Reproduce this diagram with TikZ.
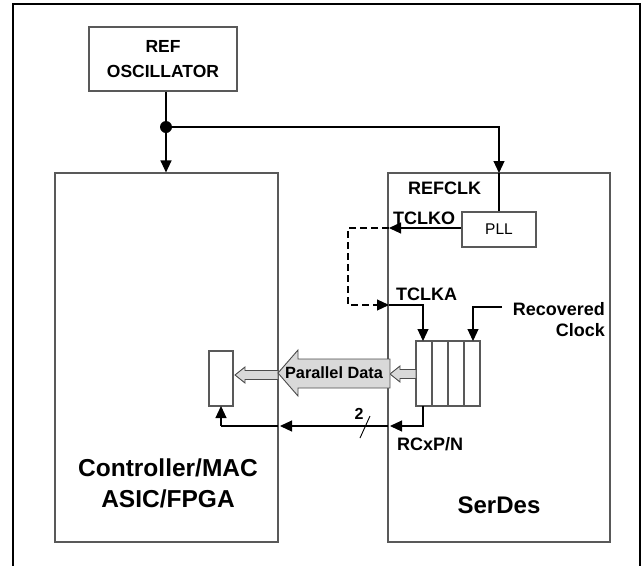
\documentclass[tikz,border=0pt]{standalone}
\usepackage{fontspec}
\setmainfont{Liberation Sans}
\usetikzlibrary{arrows.meta}
\begin{document}
\begin{tikzpicture}[x=1pt,y=-1pt,
  box/.style={draw=black!65, line width=1.1pt, inner sep=0pt, rectangle},
  wire/.style={line width=1.1pt, black},
  conn/.style={line width=1.1pt, black, -{Triangle[length=12pt,width=11pt]}},
  lbl/.style={font=\fontsize{18}{20}\selectfont\bfseries, inner sep=0pt},
  hollow/.style={draw=black!70, line width=0.9pt, fill=black!15}
]
\useasboundingbox (0,0) rectangle (642,565);
% outer frame
\draw[line width=2.7pt] (13,566) -- (13,4) -- (640,4) -- (640,566);

% blocks
\node[box, minimum width=148pt, minimum height=64pt, align=center,
      font=\fontsize{17.5}{25}\selectfont\bfseries] (osc) at (163,59) {REF\\OSCILLATOR};
\node[box, minimum width=223pt, minimum height=369pt] (ctrl) at (166.5,357.5) {};
\node[box, minimum width=222pt, minimum height=369pt] (serdes) at (499,357.5) {};
\node[box, minimum width=74pt, minimum height=35pt, font=\fontsize{15.5}{18}\selectfont] (pll) at (499,229.5) {PLL};
\node[box, minimum width=64pt, minimum height=65pt] (reg) at (448,373.5) {};
\draw[black!65, line width=1.1pt] (432,341) -- (432,406) (448,341) -- (448,406) (464,341) -- (464,406);
\node[box, minimum width=24pt, minimum height=55pt] (rx) at (221,378.5) {};

% block texts
\node[align=center, inner sep=0pt, font=\fontsize{24.5}{31}\selectfont\bfseries] (ctrltxt) at (168,483) {Controller/MAC\\ASIC/FPGA};
\node[inner sep=0pt, font=\fontsize{24}{28}\selectfont\bfseries] (sdtxt) at (499,505) {SerDes};

% labels
\node[lbl, anchor=west] (refclk) at (408,188) {REFCLK};
\node[lbl, anchor=west] (tclkolbl) at (393,218) {TCLKO};
\node[lbl, anchor=west] (tclkalbl) at (396,294) {TCLKA};
\node[lbl, anchor=east, align=right, font=\fontsize{18}{21}\selectfont\bfseries] (rcl) at (605,319.5) {Recovered\\Clock};
\node[lbl, anchor=west] (rcxp) at (397,444) {RCxP/N};
\node[inner sep=0pt, font=\fontsize{16}{18}\selectfont\bfseries] (two) at (359,414) {2};

% clock distribution
\coordinate (j) at (166,127);
\draw[wire] (osc.south -| j) -- (j);
\draw[conn] (j) -- (j |- ctrl.north);
\coordinate (rc) at (499,173);
\draw[conn] (j) -| (rc);
\draw[wire] (rc) -- (pll.north);
\fill (j) circle (6pt);

% TCLKO / TCLKA
\coordinate (tclko) at (389,228);
\coordinate (tclka) at (389,305);
\coordinate (ra) at (423,341);
\draw[conn] (pll.west |- tclko) -- (tclko);
\draw[wire, dash pattern=on 7pt off 4pt] (tclko) -- (348,228) -- (348,305) -- (380,305);
\draw[conn] (378,305) -- (tclka);
\draw[conn] (tclka) -| (ra);

% recovered clock
\coordinate (rcs) at (502,307);
\coordinate (rb) at (473,341);
\draw[conn] (rcs) -| (rb);

% RCxP/N
\coordinate (rq) at (423,406);
\coordinate (c1) at (423,426);
\coordinate (sw) at (390,426);
\coordinate (sw0) at (388,426);
\coordinate (cw) at (280,426);
\coordinate (cw0) at (278,426);
\coordinate (sr) at (221,406);
\draw[conn] (rq) -- (c1) -- (sw);
\draw[conn] (sw0) -- (cw);
\draw[wire] (cw0) -- (221,426);
\draw[conn] (221,426) -- (sr);
\draw[wire, line width=0.9pt] (370,416) -- (360,438);

% parallel data arrows
\draw[hollow] (235,375) -- (245,367) -- (245,370.5) -- (278,370.5) -- (278,379.5) -- (245,379.5) -- (245,383) -- cycle;
\draw[hollow] (390,374) -- (400,366) -- (400,369.5) -- (416,369.5) -- (416,378.5) -- (400,378.5) -- (400,382) -- cycle;
\draw[hollow] (278,373) -- (298,350) -- (298,359) -- (390,359) -- (390,388) -- (298,388) -- (298,396) -- cycle;
\node[inner sep=0pt, font=\fontsize{16.3}{18}\selectfont\bfseries] (pd) at (334,373) {Parallel Data};
\end{tikzpicture}
\end{document}
